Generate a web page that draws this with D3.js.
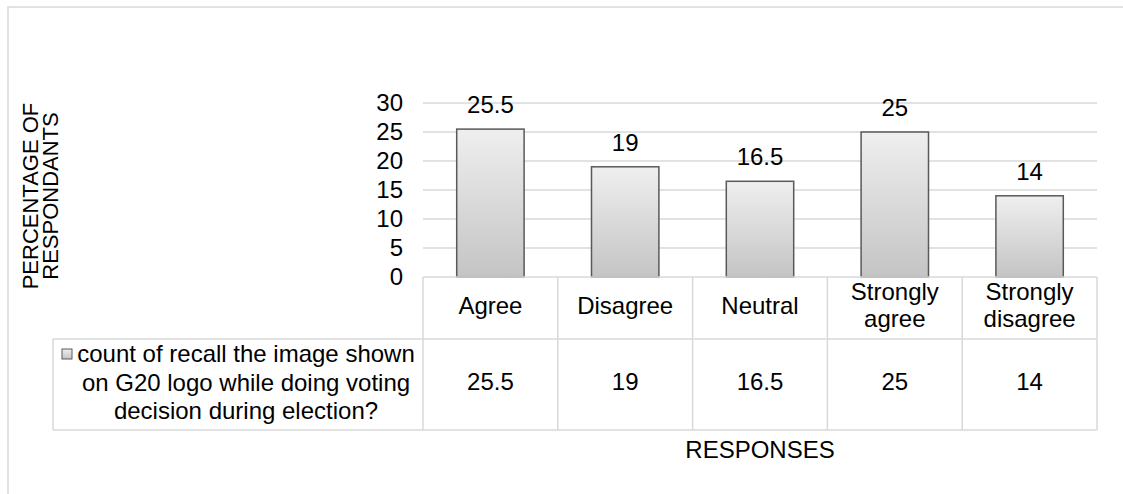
<!DOCTYPE html>
<html><head><meta charset="utf-8">
<script src="https://cdn.jsdelivr.net/npm/d3@7"></script>
<style>body{margin:0;background:#fff}svg{display:block}text{font-family:"Liberation Sans",Arial,sans-serif;fill:#000}</style>
</head><body><svg id="c" width="1123" height="494"></svg>
<script>
const categories = ["Agree","Disagree","Neutral","Strongly agree","Strongly disagree"];
const categoryLines = [["Agree"],["Disagree"],["Neutral"],["Strongly","agree"],["Strongly","disagree"]];
const values = [25.5,19,16.5,25,14];
const yTicks = [0,5,10,15,20,25,30];
const seriesName = ["count of recall the image shown","on G20 logo while doing voting","decision during election?"];
const yTitle = ["PERCENTAGE OF","RESPONDANTS"];
const xTitle = "RESPONSES";

const FS = 24;
const svg = d3.select("#c");
const defs = svg.append("defs");
const g = defs.append("linearGradient").attr("id","bg").attr("x1",0).attr("y1",0).attr("x2",0).attr("y2",1);
g.append("stop").attr("offset","0%").attr("stop-color","#efefef");
g.append("stop").attr("offset","100%").attr("stop-color","#c4c4c4");

// outer frame
svg.append("rect").attr("x",8).attr("y",7).attr("width",1130).attr("height",500)
  .attr("fill","none").attr("stroke","#d9d9d9").attr("stroke-width",1.5);

const x = d3.scaleBand().domain(categories).range([423,1097]).paddingInner(0.5).paddingOuter(0.25);
const xb = d3.scaleBand().domain(categories).range([423,1097]);
const y = d3.scaleLinear().domain([0,30]).range([277,103]);

// gridlines
svg.append("g").selectAll("line").data(yTicks.filter(d=>d>0)).join("line")
  .attr("x1",423).attr("x2",1097).attr("y1",d=>y(d)).attr("y2",d=>y(d))
  .attr("stroke","#d9d9d9").attr("stroke-width",1.5);

// y axis
const ya = svg.append("g").attr("transform","translate(423,0)")
  .call(d3.axisLeft(y).tickValues(yTicks).tickSize(0).tickPadding(20));
ya.select(".domain").remove();
ya.selectAll("text").attr("font-size",FS).attr("font-family","Liberation Sans, Arial, sans-serif").attr("fill","#000");

// bars
svg.append("g").selectAll("rect").data(values).join("rect")
  .attr("x",(d,i)=>x(categories[i])).attr("width",x.bandwidth())
  .attr("y",d=>y(d)).attr("height",d=>y(0)-y(d))
  .attr("fill","url(#bg)").attr("stroke","#595959").attr("stroke-width",1.5);

// value labels
svg.append("g").selectAll("text").data(values).join("text")
  .attr("x",(d,i)=>x(categories[i])+x.bandwidth()/2).attr("y",d=>y(d)-16)
  .attr("text-anchor","middle").attr("font-size",FS).text(d=>d);

// data table
const tTop = 277, tMid = 339, tBot = 430, legLeft = 53;
const tg = svg.append("g").attr("stroke","#d9d9d9").attr("stroke-width",1.5);
tg.append("line").attr("x1",423).attr("x2",1097).attr("y1",tTop).attr("y2",tTop);
tg.append("line").attr("x1",legLeft).attr("x2",1097).attr("y1",tMid).attr("y2",tMid);
tg.append("line").attr("x1",legLeft).attr("x2",1097).attr("y1",tBot).attr("y2",tBot);
tg.append("line").attr("x1",legLeft).attr("x2",legLeft).attr("y1",tMid).attr("y2",tBot);
tg.selectAll(".v").data(categories.concat(["end"])).join("line")
  .attr("x1",(d,i)=>423+i*xb.bandwidth()).attr("x2",(d,i)=>423+i*xb.bandwidth())
  .attr("y1",tTop).attr("y2",tBot);

// header labels
const hg = svg.append("g");
categoryLines.forEach((lines,i)=>{
  const cx = xb(categories[i])+xb.bandwidth()/2;
  const base = lines.length===1 ? [314] : [300,327];
  lines.forEach((t,j)=>{
    hg.append("text").attr("x",cx).attr("y",base[j])
      .attr("text-anchor","middle").attr("font-size",FS).text(t);
  });
});
// values row
svg.append("g").selectAll("text").data(values).join("text")
  .attr("x",(d,i)=>xb(categories[i])+xb.bandwidth()/2).attr("y",390)
  .attr("text-anchor","middle").attr("font-size",FS).text(d=>d);

// legend text
const lcx = 246;
seriesName.forEach((t,j)=>{
  svg.append("text").attr("x",lcx).attr("y",362+j*28.5)
    .attr("text-anchor","middle").attr("font-size",FS).text(t);
});
svg.append("rect").attr("x",62).attr("y",349).attr("width",10).attr("height",10)
  .attr("fill","url(#bg)").attr("stroke","#595959").attr("stroke-width",1);

// axis titles
svg.append("text").attr("x",760).attr("y",458).attr("text-anchor","middle")
  .attr("font-size",FS).text(xTitle);
yTitle.forEach((t,j)=>{
  svg.append("text").attr("transform",`translate(${38+j*20},${196}) rotate(-90)`)
    .attr("text-anchor","middle").attr("font-size",22).text(t);
});
</script></body></html>
